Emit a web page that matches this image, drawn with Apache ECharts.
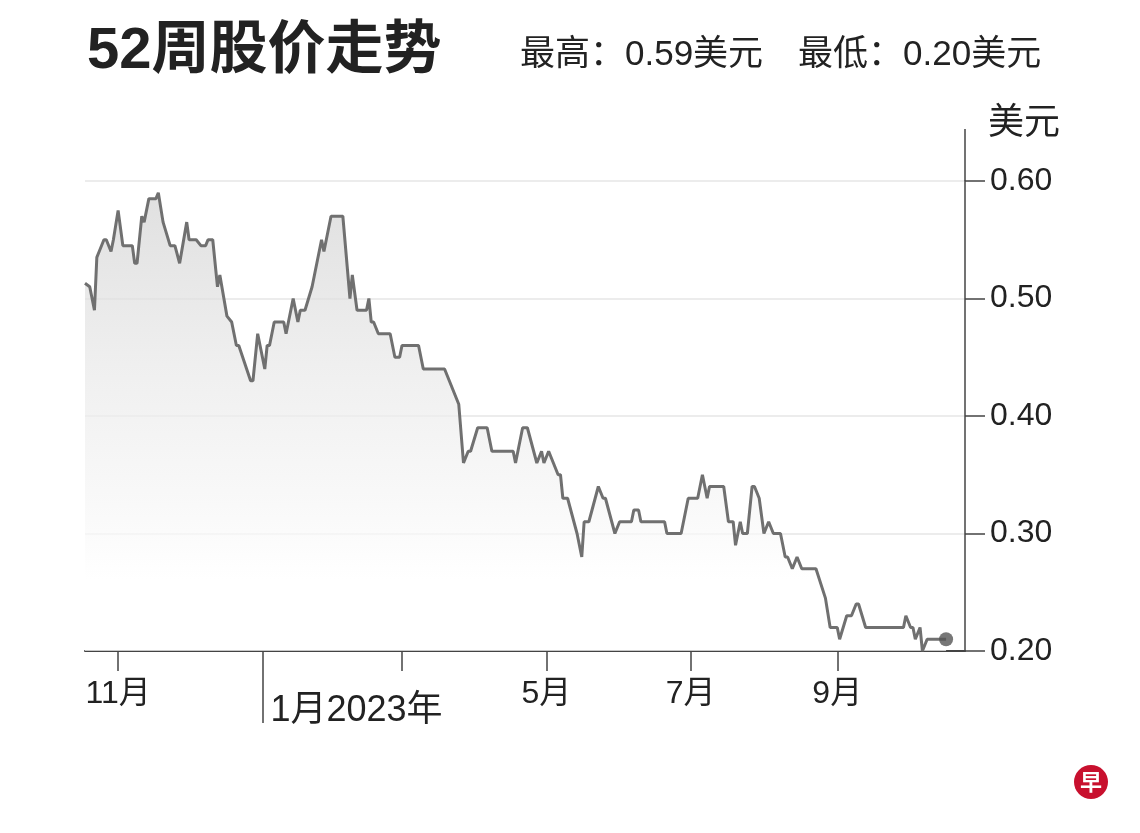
<!DOCTYPE html>
<html>
<head>
<meta charset="utf-8">
<script src="https://cdn.jsdelivr.net/npm/echarts@6/dist/echarts.min.js"></script>
<style>
  html, body { margin: 0; padding: 0; background: #ffffff; }
  #chart { width: 1140px; height: 833px; }
</style>
</head>
<body>
<div id="chart"></div>
<script>
// ---- data ----
const title = '52周股价走势';
const unitLabel = '美元';
const dates = [
  '2022-10-18','2022-10-20','2022-10-22','2022-10-23','2022-10-24','2022-10-26','2022-10-27','2022-10-29','2022-10-30',
  '2022-11-01','2022-11-03','2022-11-04','2022-11-07','2022-11-08','2022-11-09','2022-11-11','2022-11-12','2022-11-14',
  '2022-11-17','2022-11-18','2022-11-20','2022-11-23','2022-11-25','2022-11-27','2022-11-30',
  '2022-12-01','2022-12-04','2022-12-06','2022-12-08','2022-12-09','2022-12-11','2022-12-13','2022-12-14','2022-12-17',
  '2022-12-19','2022-12-21','2022-12-22','2022-12-27','2022-12-28','2022-12-30',
  '2023-01-02','2023-01-03','2023-01-04','2023-01-06','2023-01-10','2023-01-11','2023-01-14','2023-01-16','2023-01-17',
  '2023-01-19','2023-01-22','2023-01-23','2023-01-26','2023-01-27','2023-01-30',
  '2023-02-04','2023-02-07','2023-02-08','2023-02-10','2023-02-14','2023-02-15','2023-02-16','2023-02-17','2023-02-19',
  '2023-02-24','2023-02-26','2023-02-28',
  '2023-03-01','2023-03-08','2023-03-10','2023-03-19','2023-03-25','2023-03-27','2023-03-29','2023-03-30',
  '2023-04-02','2023-04-06','2023-04-08','2023-04-17','2023-04-18','2023-04-21','2023-04-23','2023-04-27','2023-04-29','2023-04-30',
  '2023-05-02','2023-05-06','2023-05-07','2023-05-08','2023-05-10','2023-05-14','2023-05-16','2023-05-17','2023-05-19',
  '2023-05-23','2023-05-25','2023-05-26','2023-05-30',
  '2023-06-01','2023-06-06','2023-06-07','2023-06-09','2023-06-10','2023-06-20','2023-06-21','2023-06-27','2023-06-30',
  '2023-07-04','2023-07-06','2023-07-08','2023-07-09','2023-07-15','2023-07-17','2023-07-19','2023-07-20','2023-07-22',
  '2023-07-23','2023-07-25','2023-07-27','2023-07-28','2023-07-30',
  '2023-08-01','2023-08-03','2023-08-05','2023-08-08','2023-08-10','2023-08-11','2023-08-13','2023-08-15','2023-08-17',
  '2023-08-23','2023-08-27','2023-08-29',
  '2023-09-01','2023-09-02','2023-09-05','2023-09-07','2023-09-09','2023-09-10','2023-09-13','2023-09-29','2023-09-30',
  '2023-10-02','2023-10-03','2023-10-04','2023-10-06','2023-10-07','2023-10-09','2023-10-13','2023-10-17'
];
const prices = [
  0.513, 0.51, 0.49, 0.535, 0.54, 0.55, 0.55, 0.54, 0.55,
  0.575, 0.545, 0.545, 0.545, 0.53, 0.53, 0.57, 0.565, 0.585,
  0.585, 0.59, 0.565, 0.545, 0.545, 0.53, 0.565,
  0.55, 0.55, 0.545, 0.545, 0.55, 0.55, 0.51, 0.52, 0.485,
  0.48, 0.46, 0.46, 0.43, 0.43, 0.47,
  0.44, 0.46, 0.46, 0.48, 0.48, 0.47, 0.50, 0.48, 0.49,
  0.49, 0.51, 0.52, 0.55, 0.54, 0.57,
  0.57, 0.50, 0.52, 0.49, 0.49, 0.50, 0.48, 0.48, 0.47,
  0.47, 0.45, 0.45,
  0.46, 0.46, 0.44, 0.44, 0.41, 0.36, 0.37, 0.37,
  0.39, 0.39, 0.37, 0.37, 0.36, 0.39, 0.39, 0.36, 0.37, 0.36,
  0.37, 0.35, 0.35, 0.33, 0.33, 0.30, 0.28, 0.31, 0.31,
  0.34, 0.33, 0.33, 0.30,
  0.31, 0.31, 0.32, 0.32, 0.31, 0.31, 0.30, 0.30, 0.33,
  0.33, 0.35, 0.33, 0.34, 0.34, 0.31, 0.31, 0.29, 0.31,
  0.30, 0.30, 0.34, 0.34, 0.33,
  0.30, 0.31, 0.30, 0.30, 0.28, 0.28, 0.27, 0.28, 0.27,
  0.27, 0.245, 0.22,
  0.22, 0.21, 0.23, 0.23, 0.24, 0.24, 0.22, 0.22, 0.23,
  0.22, 0.22, 0.21, 0.22, 0.20, 0.21, 0.21, 0.21
];
const xStart = '2022-10-18';
const xEnd = '2023-10-25';
const tickDates = ['2022-11-01','2023-01-01','2023-03-01','2023-05-01','2023-07-01','2023-09-01'];
const tickLabels = ['11月','','','5月','7月','9月'];
const yearTickDate = '2023-01-01';
const yearTickLabel = '1月2023年';
const yMin = 0.2, yMax = 0.6, yStep = 0.1;

// ---- helpers ----
function t(s) { const p = s.split('-').map(Number); return new Date(p[0], p[1] - 1, p[2]).getTime(); }
const seriesData = dates.map((d, i) => [t(d), prices[i]]);
const hi = Math.max(...prices), lo = Math.min(...prices);
const labelMap = {};
tickDates.forEach((d, i) => { labelMap[t(d)] = tickLabels[i]; });

const FONT = '"Liberation Sans", Arial, "Noto Sans CJK SC", sans-serif';
const chart = echarts.init(document.getElementById('chart'));
const option = {
  animation: false,
  backgroundColor: '#ffffff',
  textStyle: { fontFamily: FONT },
  title: [
    { text: title, left: 82, top: 18,
      textStyle: { fontSize: 58, fontWeight: 'bold', color: '#222', fontFamily: FONT } },
    { text: '最高：' + hi.toFixed(2) + '美元　最低：' + lo.toFixed(2) + '美元', left: 515, top: 33,
      textStyle: { fontSize: 35, fontWeight: 'normal', color: '#222', fontFamily: FONT } }
  ],
  grid: { left: 85, right: 175, top: 181, bottom: 182 },
  xAxis: [
    {
      type: 'value', min: t(xStart), max: t(xEnd), scale: true,
      axisLine: { show: true, lineStyle: { color: '#444', width: 2 } },
      axisTick: { show: true, length: 20, lineStyle: { color: '#444', width: 1.5 },
                  customValues: tickDates.map(t) },
      axisLabel: { show: true, margin: 27, fontSize: 32, color: '#222', fontFamily: FONT,
                   customValues: tickDates.map(t),
                   formatter: v => labelMap[v] || '' },
      splitLine: { show: false }
    },
    {
      type: 'value', min: t(xStart), max: t(xEnd), scale: true, position: 'bottom',
      axisLine: { show: false },
      axisTick: { show: true, length: 72, lineStyle: { color: '#444', width: 1.5 },
                  customValues: [t(yearTickDate)] },
      axisLabel: { show: true, margin: 42, fontSize: 36, color: '#222', fontFamily: FONT, align: 'left',
                   padding: [0, 0, 0, 8],
                   customValues: [t(yearTickDate)],
                   formatter: () => yearTickLabel },
      splitLine: { show: false }
    }
  ],
  yAxis: {
    type: 'value', position: 'right', min: yMin, max: yMax, interval: yStep,
    axisLine: { show: true, lineStyle: { color: '#444', width: 1.5 } },
    axisTick: { show: true, length: 20, lineStyle: { color: '#444', width: 1.5 } },
    axisLabel: { margin: 25, fontSize: 32, color: '#222', fontFamily: FONT, formatter: v => v.toFixed(2) },
    splitLine: { show: true, showMinLine: false, lineStyle: { color: '#e6e6e6', width: 1.5 } }
  },
  series: [
    {
      type: 'line', data: seriesData, showSymbol: false, symbol: 'none',
      lineStyle: { color: '#707070', width: 3 },
      areaStyle: {
        origin: 'start',
        color: new echarts.graphic.LinearGradient(0, 185, 0, 580, [
          { offset: 0, color: '#d2d2d2' },
          { offset: 0.45, color: '#e8e8e8' },
          { offset: 0.85, color: '#f8f8f8' },
          { offset: 1, color: '#ffffff' }
        ], true)
      },
      z: 3
    },
    {
      type: 'scatter', data: [seriesData[seriesData.length - 1]],
      symbolSize: 14, itemStyle: { color: '#555' }, z: 4
    }
  ]
};
chart.setOption(option);

// decorations: unit label, axis extension, logo
const axisX = chart.convertToPixel({ xAxisIndex: 0 }, t(xEnd));
const axisTop = chart.convertToPixel({ yAxisIndex: 0 }, yMax);
chart.setOption({
  graphic: [
    { type: 'line', shape: { x1: axisX, y1: axisTop, x2: axisX, y2: axisTop - 52 },
      style: { stroke: '#444', lineWidth: 1.5 } },
    { type: 'text', left: 988, top: 106,
      style: { text: unitLabel, fontSize: 36, fill: '#222', fontFamily: FONT } },
    { type: 'circle', shape: { cx: 1091, cy: 782, r: 17 }, style: { fill: '#c8102e' } },
    { type: 'text', x: 1091, y: 782,
      style: { text: '早', fontSize: 22, fontWeight: 'bold', fill: '#fff', align: 'center', verticalAlign: 'middle',
               fontFamily: '"Noto Sans CJK SC", sans-serif' } }
  ]
});
</script>
</body>
</html>
